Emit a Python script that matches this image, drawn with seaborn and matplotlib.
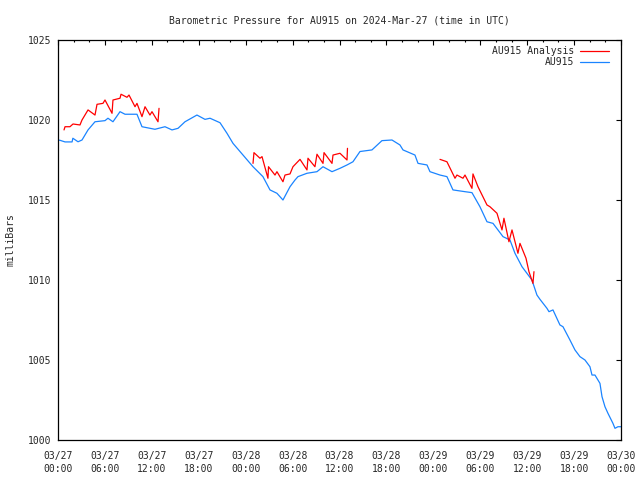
import numpy as np
import pandas as pd
import matplotlib
matplotlib.use("Agg")
import matplotlib.pyplot as plt
from matplotlib.lines import Line2D
from matplotlib.ticker import MultipleLocator
import seaborn as sns

# ---- data (hours since 2024-03-27 00:00 UTC, pressure in mb) ----
obs_hours = [0.0, 0.26, 0.9, 1.8, 1.9, 2.56, 3.07, 3.84, 4.73, 6.01, 6.39, 7.03, 7.93, 8.57,
             9.46, 10.1, 10.74, 12.4, 13.68, 14.58, 15.35, 16.24, 17.77, 18.8, 19.44, 20.72,
             21.61, 22.38, 23.66, 24.94, 26.21, 27.11, 28.0, 28.77, 29.67, 30.31, 30.69, 31.84,
             33.12, 33.89, 35.04, 36.06, 36.96, 37.72, 38.62, 40.15, 41.43, 42.71, 43.73, 44.12,
             45.65, 46.04, 47.19, 47.57, 48.85, 49.74, 50.51, 52.05, 52.94, 53.96, 54.86, 55.63,
             56.91, 57.8, 58.44, 59.34, 60.61, 61.25, 61.64, 62.53, 62.79, 63.3, 64.19, 64.58,
             65.47, 66.11, 66.75, 67.39, 68.03, 68.29, 68.67, 69.31, 69.57, 69.95, 70.33, 70.97,
             71.23, 71.61, 72.0]
obs_mb = [1018.75, 1018.73, 1018.63, 1018.63, 1018.86, 1018.64, 1018.75, 1019.38, 1019.89,
          1019.96, 1020.11, 1019.89, 1020.52, 1020.36, 1020.36, 1020.36, 1019.58, 1019.42,
          1019.58, 1019.38, 1019.48, 1019.89, 1020.31, 1020.04, 1020.11, 1019.83, 1019.17,
          1018.54, 1017.81, 1017.08, 1016.46, 1015.63, 1015.42, 1015.0, 1015.83, 1016.25,
          1016.46, 1016.67, 1016.77, 1017.08, 1016.77, 1016.98, 1017.19, 1017.39, 1018.03,
          1018.13, 1018.71, 1018.75, 1018.44, 1018.13, 1017.81, 1017.29, 1017.19, 1016.77,
          1016.56, 1016.46, 1015.63, 1015.52, 1015.46, 1014.58, 1013.64, 1013.54, 1012.71,
          1012.5, 1011.67, 1010.83, 1010.0, 1009.06, 1008.79, 1008.23, 1008.02, 1008.13,
          1007.19, 1007.08, 1006.25, 1005.63, 1005.21, 1005.0, 1004.58, 1004.06, 1004.06,
          1003.54, 1002.71, 1002.08, 1001.67, 1001.04, 1000.73, 1000.83, 1000.83]

ana_seg1_hours = [0.77, 0.9, 1.53, 1.92, 2.81, 3.07, 3.84, 4.73, 4.99, 5.75, 6.01, 6.91, 7.03,
                  7.93, 8.06, 8.82, 9.08, 9.85, 10.1, 10.74, 11.13, 11.76, 12.02, 12.79, 12.92]
ana_seg1_mb = [1019.38, 1019.58, 1019.58, 1019.75, 1019.69, 1020.0, 1020.63, 1020.31, 1020.98,
               1021.04, 1021.25, 1020.42, 1021.25, 1021.36, 1021.61, 1021.42, 1021.56, 1020.83,
               1021.04, 1020.21, 1020.83, 1020.31, 1020.52, 1019.89, 1020.73]
ana_seg2_hours = [24.94, 25.06, 25.83, 26.09, 26.85, 26.92, 27.75, 28.0, 28.77, 29.03, 29.67,
                  30.05, 30.95, 31.84, 31.97, 32.86, 33.12, 33.89, 34.02, 35.04, 35.17, 36.06,
                  36.96, 37.02]
ana_seg2_mb = [1017.29, 1017.96, 1017.61, 1017.71, 1016.36, 1017.08, 1016.56, 1016.77, 1016.14,
               1016.56, 1016.63, 1017.08, 1017.54, 1016.88, 1017.61, 1017.08, 1017.86, 1017.29,
               1017.96, 1017.29, 1017.81, 1017.92, 1017.5, 1018.23]
ana_seg3_hours = [48.85, 49.74, 50.77, 51.02, 51.79, 52.05, 52.94, 53.07, 53.71, 54.86, 55.24,
                  56.14, 56.78, 57.03, 57.67, 58.06, 58.82, 59.08, 59.85, 60.23, 60.74, 60.87]
ana_seg3_mb = [1017.54, 1017.39, 1016.36, 1016.56, 1016.36, 1016.56, 1015.73, 1016.63, 1015.83,
               1014.69, 1014.58, 1014.17, 1013.13, 1013.86, 1012.39, 1013.13, 1011.67, 1012.29,
               1011.36, 1010.52, 1009.79, 1010.52]

x_tick_hours = [0, 6, 12, 18, 24, 30, 36, 42, 48, 54, 60, 66, 72]
x_tick_labels = ["03/27\n00:00", "03/27\n06:00", "03/27\n12:00", "03/27\n18:00",
                 "03/28\n00:00", "03/28\n06:00", "03/28\n12:00", "03/28\n18:00",
                 "03/29\n00:00", "03/29\n06:00", "03/29\n12:00", "03/29\n18:00",
                 "03/30\n00:00"]
y_ticks = [1000, 1005, 1010, 1015, 1020, 1025]

title = "Barometric Pressure for AU915 on 2024-Mar-27 (time in UTC)"
ylabel = "milliBars"
label_ana = "AU915 Analysis"
label_obs = "AU915"

# ---- styling ----
sns.set_style("white")
plt.rcParams["font.family"] = ["DejaVu Sans Mono"]
plt.rcParams["font.size"] = 7

RED = "#ff0000"
BLUE = "#1a84ff"

fig = plt.figure(figsize=(6.4, 4.8), dpi=100)
ax = fig.add_axes([58 / 640, 40 / 480, (621 - 58) / 640, 400 / 480])

df_obs = pd.DataFrame({"hour": obs_hours, "mb": obs_mb})
df_ana = pd.concat([
    pd.DataFrame({"hour": ana_seg1_hours, "mb": ana_seg1_mb, "seg": 1}),
    pd.DataFrame({"hour": ana_seg2_hours, "mb": ana_seg2_mb, "seg": 2}),
    pd.DataFrame({"hour": ana_seg3_hours, "mb": ana_seg3_mb, "seg": 3}),
], ignore_index=True)

sns.lineplot(data=df_obs, x="hour", y="mb", color=BLUE, linewidth=0.9, ax=ax,
             estimator=None, sort=False, legend=False)
sns.lineplot(data=df_ana, x="hour", y="mb", units="seg", color=RED, linewidth=0.9, ax=ax,
             estimator=None, sort=False, legend=False)

ax.set_xlim(0, 72)
ax.set_ylim(1000, 1025)
ax.set_xticks(x_tick_hours)
ax.set_xticklabels(x_tick_labels, linespacing=1.4)
ax.xaxis.set_minor_locator(MultipleLocator(2))
ax.set_yticks(y_ticks)
ax.set_yticklabels([str(v) for v in y_ticks])

ax.tick_params(axis="both", which="both", direction="in", top=True, right=True,
               color="black", width=0.8)
ax.tick_params(axis="x", which="major", length=3.4, pad=8)
ax.tick_params(axis="x", which="minor", length=1.7)
ax.tick_params(axis="y", which="major", length=3.6, pad=4.5)
for s in ax.spines.values():
    s.set_color("black")
    s.set_linewidth(0.9)

ax.set_xlabel("")
ax.set_ylabel(ylabel, labelpad=9)
ax.set_title(title, fontsize=7, pad=12)

handles = [Line2D([], [], color=RED, linewidth=0.9),
           Line2D([], [], color=BLUE, linewidth=0.9)]
ax.legend(handles, [label_ana, label_obs], loc="upper right",
          bbox_to_anchor=(1 - 12 / 563, 1 - 6 / 400), frameon=False, markerfirst=False,
          handlelength=3.0, handletextpad=0.6, labelspacing=0.15, borderpad=0,
          borderaxespad=0, fontsize=7)

fig.savefig("out.png", dpi=100)
